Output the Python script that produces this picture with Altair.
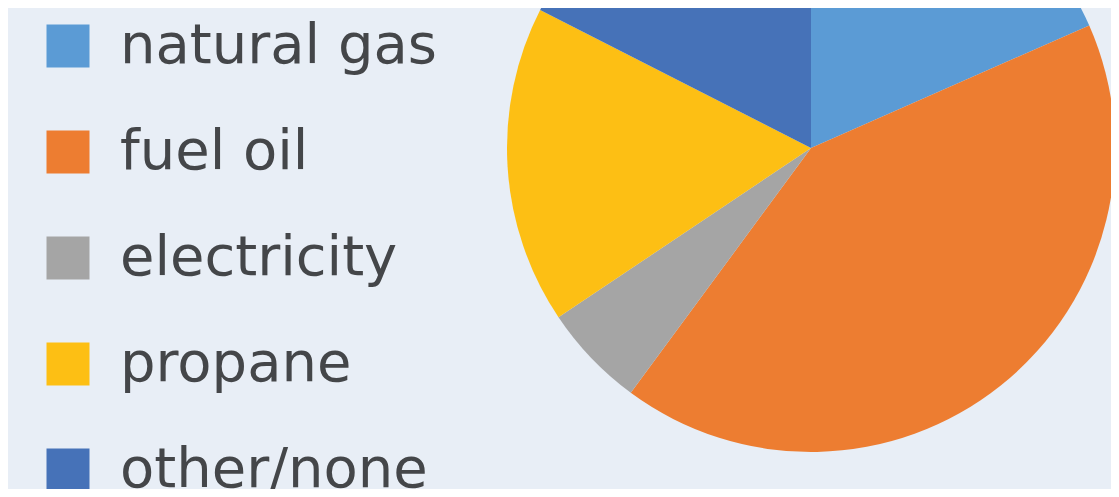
import altair as alt
import pandas as pd

categories = ["natural gas", "fuel oil", "electricity", "propane", "other/none"]
shares = [18.4, 41.7, 5.5, 16.9, 17.5]
colors = ["#5B9BD5", "#ED7D31", "#A5A5A5", "#FDBF14", "#4672B8"]

df = pd.DataFrame({"fuel": categories, "share": shares, "order": list(range(len(categories)))})

chart = alt.Chart(df).mark_arc(radius=304).encode(
    theta=alt.Theta("share:Q", stack=True),
    order=alt.Order("order:Q"),
    color=alt.Color(
        "fuel:N",
        scale=alt.Scale(domain=categories, range=colors),
        sort=categories,
        legend=alt.Legend(
            title=None,
            orient="none",
            legendX=32,
            legendY=10,
            symbolType="square",
            symbolSize=1849,
            symbolStrokeWidth=0,
            labelFontSize=56,
            labelFont="DejaVu Sans",
            labelColor="#444649",
            labelOffset=24,
            rowPadding=50,
            padding=0,
            labelLimit=600,
        ),
    ),
    x=alt.value(803),
    y=alt.value(140),
).properties(
    width=1103,
    height=481,
    autosize=alt.AutoSizeParams(type="none"),
    padding=0,
    background="#E8EEF6",
).configure_view(stroke=None)

chart.save("out.html", embed_options={"renderer": "svg", "actions": False})
